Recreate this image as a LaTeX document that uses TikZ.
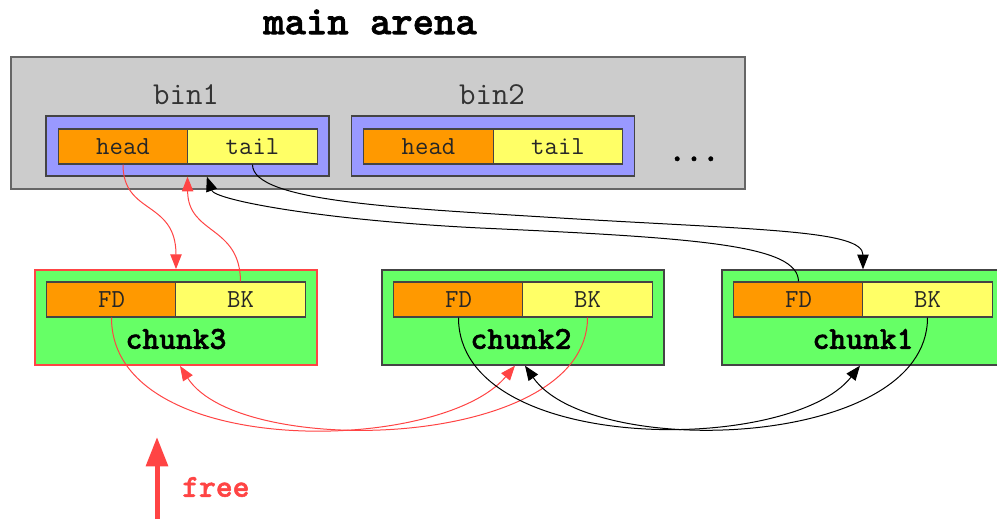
\documentclass[tikz,border=0pt]{standalone}
\usepackage{fontspec}
\usetikzlibrary{arrows.meta}
% heavy typewriter face for the titles
\newfontfamily\heavymono[FakeBold=1.6]{lmmonolt10-bold.otf}

\definecolor{arenagray}{HTML}{CCCCCC}
\definecolor{arenaedge}{HTML}{666666}
\definecolor{binblue}{HTML}{9999FF}
\definecolor{ptrorange}{HTML}{FF9900}
\definecolor{ptryellow}{HTML}{FFFF66}
\definecolor{chunkgreen}{HTML}{66FF66}
\definecolor{freered}{HTML}{FF4444}
\definecolor{boxedge}{HTML}{444444}
\definecolor{labelgray}{HTML}{333333}

\newcommand{\titlefnt}{\heavymono\fontsize{30.5}{34}\selectfont}
\newcommand{\binfnt}{\ttfamily\fontsize{24}{27}\selectfont}
\newcommand{\cellfnt}{\ttfamily\fontsize{19.5}{22}\selectfont}
\newcommand{\chunkfnt}{\heavymono\fontsize{24}{27}\selectfont}

\begin{document}
\begin{tikzpicture}[x=0.75pt,y=-0.75pt,
  arena/.style={draw=arenaedge, fill=arenagray, line width=1pt,
    minimum width=550.5pt, minimum height=99pt, inner sep=0},
  binbox/.style={draw=boxedge, fill=binblue, line width=1pt,
    minimum width=212.25pt, minimum height=45pt, inner sep=0},
  cell/.style={draw=boxedge, line width=0.9pt, minimum width=97pt,
    minimum height=26.25pt, inner sep=0, font=\cellfnt, text=black!85},
  fdcell/.style={cell, fill=ptrorange},
  bkcell/.style={cell, fill=ptryellow},
  chunkbox/.style={draw=boxedge, fill=chunkgreen, line width=1pt,
    minimum width=211.5pt, minimum height=71.25pt, inner sep=0},
  freedchunk/.style={chunkbox, draw=freered, line width=1.4pt},
  binlabel/.style={font=\binfnt, text=labelgray, inner sep=0},
  chunklabel/.style={font=\chunkfnt, text=black, inner sep=0},
  link/.style={line width=0.75pt, -{Triangle[length=11pt,width=8.5pt]}},
  blacklink/.style={link, draw=black},
  redlink/.style={link, draw=freered},
]
\useasboundingbox (0,0) rectangle (997,520);
\clip (0,0) rectangle (997,520);

% arena with its bins
\node[font=\titlefnt, inner sep=0] (title) at (370,22) {main arena};
\node[arena] (arena) at (378,123) {};
\node[binlabel] (bin1lbl) at (186,95) {bin1};
\node[binlabel] (bin2lbl) at (492,95) {bin2};
\node[binbox] (bin1) at (187.5,146) {};
\node[binbox] (bin2) at (493,146) {};
\node[fdcell] (b1head) at (123,146.5) {head};
\node[bkcell] (b1tail) at (252.5,146.5) {tail};
\node[fdcell] (b2head) at (428.5,146.5) {head};
\node[bkcell] (b2tail) at (558,146.5) {tail};
\node[font=\chunkfnt, inner sep=0, anchor=base] (dots) at (694,161) {...};

% chunks
\node[freedchunk] (c3) at (176,317.5) {};
\node[fdcell] (c3fd) at (111.5,299.5) {FD};
\node[bkcell] (c3bk) at (240.5,299.5) {BK};
\node[chunklabel] (c3lbl) at (176,339) {chunk3};

\node[chunkbox] (c2) at (523,317.5) {};
\node[fdcell] (c2fd) at (458.5,299.5) {FD};
\node[bkcell] (c2bk) at (587.5,299.5) {BK};
\node[chunklabel] (c2lbl) at (521,339) {chunk2};

\node[chunkbox] (c1) at (863,317.5) {};
\node[fdcell] (c1fd) at (798.5,299.5) {FD};
\node[bkcell] (c1bk) at (927.5,299.5) {BK};
\node[chunklabel] (c1lbl) at (863,339) {chunk1};

% bin1 <-> chunk3 (newly freed)
\draw[redlink] (b1head.south) .. controls (123,215) and (176,200) .. (c3.north);
\draw[redlink] (c3bk.north) .. controls (240,225) and (188,235) .. (bin1.south);

% bin1 <-> chunk1
\draw[blacklink] (b1tail.south) .. controls (252.5,202) and (400,208) .. (560,218)
  .. controls (760,230) and (863,230) .. (c1.north);
\draw[blacklink] (c1fd.north) .. controls (798,245) and (700,238) .. (480,228)
  .. controls (320,220) and (215,200) .. ([xshift=14.5pt]bin1.south);

% chunk3 <-> chunk2
\draw[redlink] (c3fd.south) .. controls (111.5,460) and (440,455) .. ([xshift=-6pt]c2.south);
\draw[redlink] (c2bk.south) .. controls (587.5,450) and (240,460) .. ([xshift=3pt]c3.south);

% chunk2 <-> chunk1
\draw[blacklink] (c2fd.south) .. controls (458.5,455) and (790,455) .. ([xshift=-2.25pt]c1.south);
\draw[blacklink] (c1bk.south) .. controls (927.5,450) and (590,460) .. ([xshift=1.5pt]c2.south);

% free marker
\coordinate (freefoot) at (157,519);
\coordinate (freetip) at (157,437);
\draw[draw=freered, line width=3.75pt, -{Triangle[length=22pt,width=16pt]}] (freefoot) -- (freetip);
\node[font=\chunkfnt, text=freered, anchor=west, inner sep=0] (freelbl) at (182,487) {free};
\end{tikzpicture}
\end{document}
